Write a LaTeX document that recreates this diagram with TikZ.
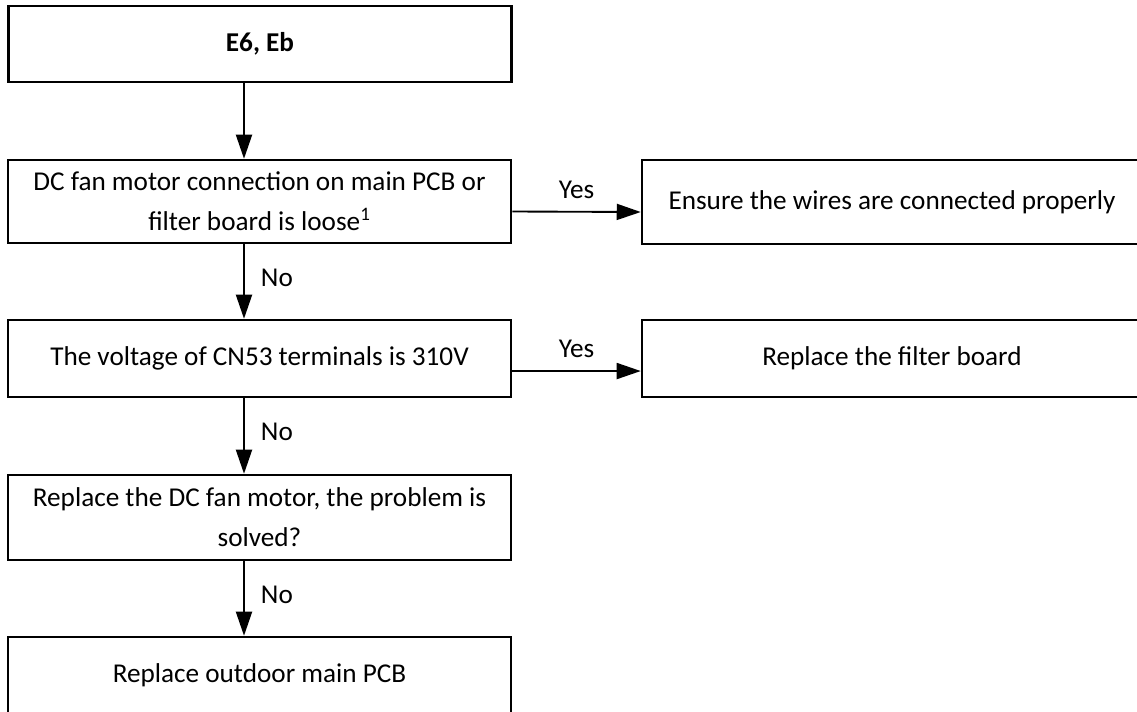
\documentclass[tikz,border=0pt]{standalone}
\usepackage{fontspec}
\setmainfont{Carlito}
\usetikzlibrary{arrows.meta,positioning}

\tikzset{
  box/.style={draw, line width=1.9pt, minimum width=377.25pt, align=center,
    inner sep=0pt, font=\fontsize{20.4}{30}\selectfont},
  arr/.style={-{Triangle[length=18pt,width=12pt]}, line width=1.4pt},
  lbl/.style={inner sep=0pt, font=\fontsize{20.4}{24}\selectfont}
}

\begin{document}
\begin{tikzpicture}[x=0.75pt,y=-0.75pt]
  \useasboundingbox (0,0) rectangle (1137,711);
  % boxes
  \node[box, minimum height=57pt, font=\fontsize{20.4}{30}\selectfont\bfseries] (e6) at (260,44) {E6, Eb};
  \node[box, minimum height=62.25pt] (loose) at (259.5,201.5) {DC fan motor connection on main PCB or\\filter board is loose\textsuperscript{1}};
  \node[box, minimum height=63pt, minimum width=375pt] (wires) at (892,202) {Ensure the wires are connected properly};
  \node[box, minimum height=57.75pt] (volt) at (259.5,358.5) {The voltage of CN53 terminals is 310V};
  \node[box, minimum height=57.75pt, minimum width=375pt] (filter) at (892,358.5) {Replace the filter board};
  \node[box, minimum height=63.75pt] (motor) at (259.5,517.5) {Replace the DC fan motor, the problem is\\solved?};
  \node[box, minimum height=57.75pt] (pcb) at (259.5,675.5) {Replace outdoor main PCB};
  % arrows
  \coordinate (ax) at (244,0);
  \draw[arr] (e6.south -| ax) -- (loose.north -| ax);
  \draw[arr] (loose.south -| ax) -- node[lbl, right=12pt, yshift=3pt] {No} (volt.north -| ax);
  \draw[arr] (volt.south -| ax) -- node[lbl, right=12pt, yshift=3pt] {No} (motor.north -| ax);
  \draw[arr] (motor.south -| ax) -- node[lbl, right=12pt, yshift=3pt] {No} (pcb.north -| ax);
  \draw[arr] ([yshift=-7.5pt]loose.east) -- node[lbl, above=9pt] {Yes} ([yshift=-7.5pt]wires.west);
  \draw[arr] ([yshift=-9.4pt]volt.east) -- node[lbl, above=9pt] {Yes} ([yshift=-9.4pt]filter.west);
\end{tikzpicture}
\end{document}
